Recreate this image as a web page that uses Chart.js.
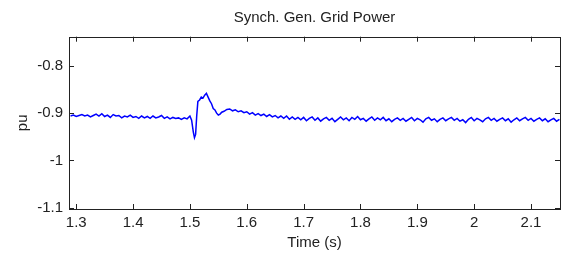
<!DOCTYPE html>
<html>
<head>
<meta charset="utf-8">
<script src="https://cdn.jsdelivr.net/npm/chart.js@4/dist/chart.umd.min.js"></script>
<style>
  body { margin: 0; background: #fff; }
  canvas { display: block; }
</style>
</head>
<body>
<canvas id="c" width="563" height="257"></canvas>
<script>
// sample times (s)
const time = [
  1.290,1.295,1.300,1.305,1.310,1.315,1.320,1.325,1.330,1.335,1.340,1.345,1.350,1.355,1.360,1.365,1.370,1.375,1.380,1.385,
  1.390,1.395,1.400,1.405,1.410,1.415,1.420,1.425,1.430,1.435,1.440,1.445,1.450,1.455,1.460,1.465,1.470,1.475,1.480,1.485,
  1.490,1.495,
  1.500,1.503,1.506,1.508,1.510,1.512,1.514,1.517,1.520,1.523,1.526,1.529,1.532,1.535,1.538,1.541,1.544,1.547,1.550,1.553,1.556,
  1.560,1.565,1.570,1.575,1.580,1.585,1.590,1.595,1.600,1.605,1.610,1.615,1.620,1.625,1.630,1.635,1.640,1.645,1.650,1.655,
  1.660,1.665,1.670,1.675,1.680,1.685,1.690,
  1.695,1.700,1.705,1.710,1.715,1.720,1.725,1.730,1.735,1.740,1.745,1.750,1.755,1.760,1.765,1.770,1.775,1.780,1.785,1.790,
  1.795,1.800,1.805,1.810,1.815,1.820,1.825,1.830,1.835,1.840,1.845,1.850,1.855,1.860,1.865,1.870,1.875,1.880,1.885,1.890,
  1.895,1.900,1.905,1.910,1.915,1.920,1.925,1.930,1.935,1.940,1.945,1.950,1.955,1.960,1.965,1.970,1.975,1.980,1.985,1.990,
  1.995,2.000,2.005,2.010,2.015,2.020,2.025,2.030,2.035,2.040,2.045,2.050,2.055,2.060,2.065,2.070,2.075,2.080,2.085,2.090,
  2.095,2.100,2.105,2.110,2.115,2.120,2.125,2.130,2.135,2.140,2.145,2.150
];
// grid power (pu)
const power = [
  -0.906,-0.904,-0.907,-0.905,-0.903,-0.906,-0.904,-0.908,-0.905,-0.902,-0.906,-0.901,-0.907,-0.904,-0.909,-0.903,-0.906,-0.905,-0.910,-0.906,
  -0.908,-0.904,-0.909,-0.907,-0.911,-0.906,-0.910,-0.907,-0.911,-0.906,-0.910,-0.908,-0.905,-0.911,-0.908,-0.912,-0.909,-0.911,-0.910,-0.913,
  -0.910,-0.912,
  -0.906,-0.915,-0.940,-0.952,-0.945,-0.905,-0.875,-0.872,-0.866,-0.868,-0.862,-0.858,-0.866,-0.874,-0.880,-0.890,-0.893,-0.900,-0.904,-0.902,-0.898,
  -0.896,-0.892,-0.891,-0.895,-0.893,-0.897,-0.895,-0.899,-0.897,-0.902,-0.899,-0.904,-0.901,-0.905,-0.902,-0.907,-0.903,-0.908,-0.905,-0.910,
  -0.906,-0.911,-0.906,-0.913,-0.908,-0.913,-0.909,
  -0.914,-0.909,-0.916,-0.911,-0.908,-0.915,-0.910,-0.917,-0.912,-0.909,-0.915,-0.911,-0.918,-0.913,-0.908,-0.914,-0.910,-0.916,-0.909,-0.913,
  -0.907,-0.914,-0.911,-0.917,-0.912,-0.908,-0.915,-0.910,-0.914,-0.909,-0.916,-0.912,-0.918,-0.913,-0.910,-0.915,-0.911,-0.917,-0.913,-0.909,
  -0.916,-0.911,-0.914,-0.919,-0.912,-0.909,-0.915,-0.912,-0.918,-0.913,-0.910,-0.916,-0.912,-0.909,-0.915,-0.911,-0.917,-0.914,-0.920,-0.913,
  -0.909,-0.916,-0.911,-0.914,-0.918,-0.912,-0.909,-0.915,-0.911,-0.917,-0.913,-0.910,-0.916,-0.912,-0.919,-0.914,-0.910,-0.916,-0.912,-0.909,
  -0.915,-0.911,-0.917,-0.913,-0.910,-0.916,-0.912,-0.918,-0.914,-0.911,-0.917,-0.913
];
const xTicks = [1.3, 1.4, 1.5, 1.6, 1.7, 1.8, 1.9, 2, 2.1];
const yTicks = [-1.1, -1, -0.9, -0.8];

const FONT = 'Arial, "Liberation Sans", sans-serif';
const INK = '#222';

// MATLAB-style box with inward tick marks on all four sides
const boxTicks = {
    id: 'boxTicks',
    afterDraw(c) {
        const { ctx, chartArea: a, scales: { x, y } } = c;
        const len = 5;
        ctx.save();
        ctx.strokeStyle = INK;
        ctx.lineWidth = 1;
        ctx.beginPath();
        xTicks.forEach(v => {
            const px = Math.round(x.getPixelForValue(v)) + 0.5;
            ctx.moveTo(px, a.bottom); ctx.lineTo(px, a.bottom - len);
            ctx.moveTo(px, a.top); ctx.lineTo(px, a.top + len);
        });
        yTicks.forEach(v => {
            const py = Math.round(y.getPixelForValue(v)) + 0.5;
            ctx.moveTo(a.left, py); ctx.lineTo(a.left + len, py);
            ctx.moveTo(a.right, py); ctx.lineTo(a.right - len, py);
        });
        ctx.stroke();
        ctx.strokeRect(Math.round(a.left) + 0.5, Math.round(a.top) + 0.5,
                       Math.round(a.right - a.left), Math.round(a.bottom - a.top));
        ctx.restore();
    }
};

const fmt = v => String(+v.toFixed(2));

new Chart(document.getElementById('c'), {
    type: 'line',
    data: {
        datasets: [{
            data: time.map((t, i) => ({ x: t, y: power[i] })),
            borderColor: '#0000ff',
            borderWidth: 1.5,
            pointRadius: 0,
            tension: 0,
            fill: false
        }]
    },
    options: {
        responsive: false,
        animation: false,
        layout: { padding: { left: 0, right: 3, top: 0, bottom: 0 } },
        plugins: {
            legend: { display: false },
            tooltip: { enabled: false },
            title: {
                display: true, fullSize: false,
                text: 'Synch. Gen. Grid Power',
                color: INK,
                font: { family: FONT, size: 15, weight: 'normal' },
                padding: { top: 9, bottom: 9.7 }
            }
        },
        scales: {
            x: {
                type: 'linear', min: 1.2873, max: 2.151,
                afterBuildTicks: s => { s.ticks = xTicks.map(v => ({ value: v })); },
                afterFit: s => { s.height = 48; },
                grid: { display: false, drawTicks: false },
                border: { display: false },
                ticks: { color: INK, font: { family: FONT, size: 15 }, padding: 5, maxRotation: 0, autoSkip: false, callback: fmt },
                title: { display: true, text: 'Time (s)', color: INK, font: { family: FONT, size: 15 }, padding: { top: 0, bottom: 5 } }
            },
            y: {
                min: -1.103, max: -0.738,
                afterBuildTicks: s => { s.ticks = yTicks.map(v => ({ value: v })); },
                afterFit: s => { s.width = 69; },
                grid: { display: false, drawTicks: false },
                border: { display: false },
                ticks: { color: INK, font: { family: FONT, size: 15 }, padding: 6, autoSkip: false, callback: fmt },
                title: { display: true, text: 'pu', color: INK, font: { family: FONT, size: 15 }, padding: { top: 14, bottom: 0 } }
            }
        }
    },
    plugins: [boxTicks]
});
</script>
</body>
</html>
